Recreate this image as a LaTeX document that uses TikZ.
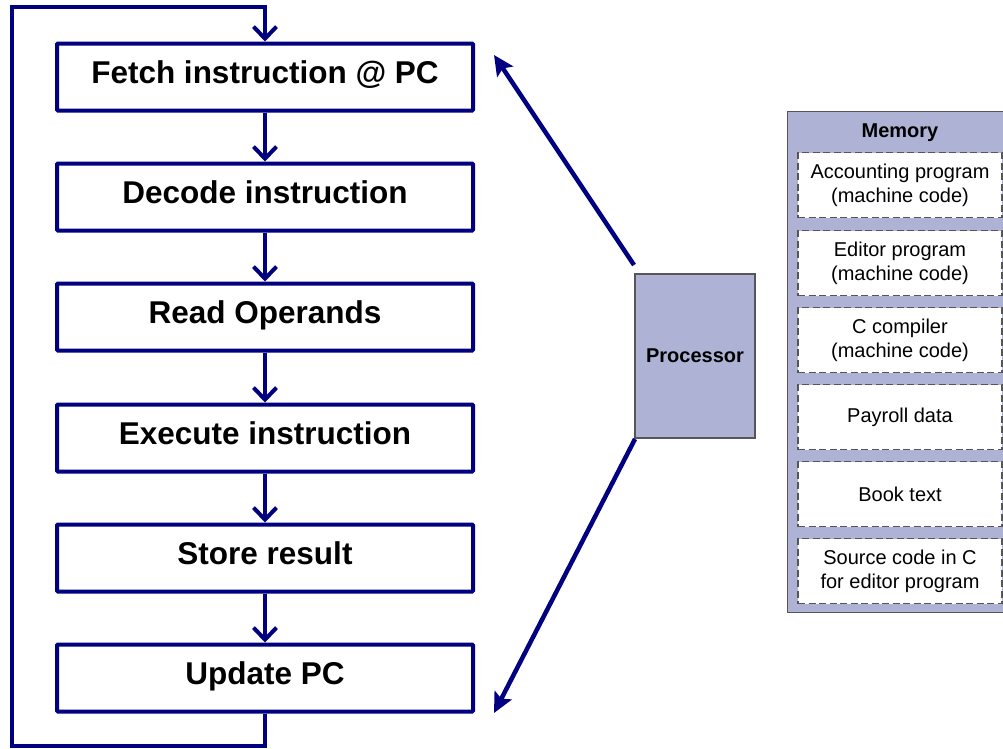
\documentclass[tikz,border=0pt]{standalone}
\usepackage{fontspec}
\setmainfont{Liberation Sans}
\usetikzlibrary{arrows.meta,positioning}
\definecolor{navy}{RGB}{0,0,128}
\definecolor{chipfill}{RGB}{174,179,214}
\definecolor{chipedge}{RGB}{85,85,90}
\definecolor{slotedge}{RGB}{85,85,90}
\tikzset{
  stepbox/.style={draw=navy, line width=4pt, fill=white, minimum width=416pt,
    minimum height=67pt, inner sep=0pt, rounded corners=1pt,
    text height=18pt, text depth=6pt,
    font=\fontsize{31.5}{34}\selectfont\bfseries},
  flow/.style={draw=navy, line width=4pt,
    -{Straight Barb[length=12pt,width=23pt,line width=4pt]}},
  bus/.style={draw=navy, line width=4.5pt,
    -{Stealth[length=20pt,width=19pt,inset=4pt]}},
  chip/.style={draw=chipedge, line width=1.2pt, fill=chipfill, inner sep=0pt},
  slot/.style={draw=slotedge, line width=1.7pt, dash pattern=on 7pt off 3.5pt,
    fill=white, minimum width=204pt, minimum height=65pt, inner sep=0pt,
    align=center, font=\fontsize{20}{24}\selectfont},
}
\begin{document}
\begin{tikzpicture}[x=1pt,y=-1pt]
  \useasboundingbox (0,0) rectangle (1003,748);
  \clip (0,0) rectangle (1003,748);

  % instruction cycle
  \node[stepbox] (fetch) at (265,77)  {Fetch instruction @ PC};
  \node[stepbox] (dec)   at (265,197) {Decode instruction};
  \node[stepbox] (read)  at (265,317) {Read Operands};
  \node[stepbox] (exec)  at (265,438) {Execute instruction};
  \node[stepbox] (store) at (265,558) {Store result};
  \node[stepbox] (upd)   at (265,678) {Update PC};

  \draw[flow] (fetch.south) -- (dec.north);
  \draw[flow] (dec.south)   -- (read.north);
  \draw[flow] (read.south)  -- (exec.north);
  \draw[flow] (exec.south)  -- (store.north);
  \draw[flow] (store.south) -- (upd.north);

  % loop back from the last step to the first
  \coordinate (loopbl) at (12,746);
  \coordinate (looptl) at (12,7);
  \draw[flow, line join=miter] (upd.south) |- (loopbl) -- (looptl) -| (fetch.north);

  % processor
  \node[chip, minimum width=120pt, minimum height=164pt,
        font=\fontsize{20}{22}\selectfont\bfseries] (proc) at (695,356) {Processor};
  \coordinate (ptop) at (634,265);
  \coordinate (pbot) at (635,439);
  \coordinate (tipf) at (494,55);
  \coordinate (tipu) at (494,713);
  \draw[bus] (ptop) -- (tipf);
  \draw[bus] (pbot) -- (tipu);

  % memory
  \node[chip, minimum width=230pt, minimum height=501pt, anchor=north west] (mem) at (787,111) {};
  \node[font=\fontsize{20}{22}\selectfont\bfseries] (memt) at (900,133) {Memory};
  \node[slot] (m1) at (900,185) {Accounting program\\(machine code)};
  \node[slot] (m2) at (900,263) {Editor program\\(machine code)};
  \node[slot] (m3) at (900,340) {C compiler\\(machine code)};
  \node[slot] (m4) at (900,417) {Payroll data};
  \node[slot] (m5) at (900,494) {Book text};
  \node[slot] (m6) at (900,571) {Source code in C\\for editor program};
\end{tikzpicture}
\end{document}
